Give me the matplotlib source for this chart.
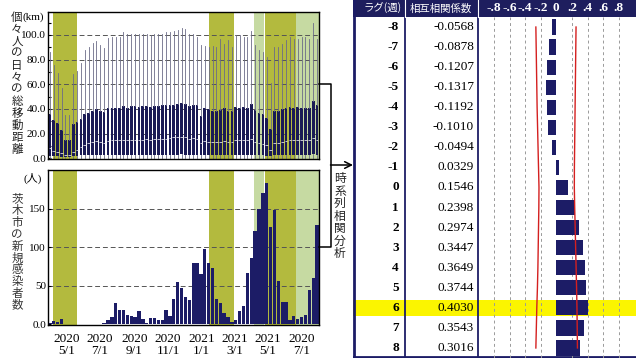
import matplotlib
matplotlib.use('Agg')
import matplotlib.pyplot as plt
import matplotlib.dates as mdates
import numpy as np
import pandas as pd

# ---------------- data ----------------
week_start = pd.date_range('2020-03-29', periods=70, freq='7D')

# weekly distribution of individual daily travel distance (km)
dist_q3 = [35.7, 31, 28.4, 23, 14.8, 14.8, 27.6, 29.8, 31.7, 36, 37, 38.7, 39.8, 38.4, 37.3,
           40.5, 40.5, 40.5, 40.5, 42, 41, 42, 42, 41.5, 42, 42, 41.5, 42, 42.5, 43, 43, 43,
           43.5, 44, 45, 44, 42, 43, 43, 34.3, 40.5, 40, 38, 38, 39, 41, 38, 38, 41.7, 41,
           41.5, 41, 43.6, 38.8, 37, 36, 33, 24, 38, 38, 40, 40.8, 41.6, 41, 41.6, 41, 41,
           41, 46.5, 43]
dist_hi = [86.5, 76, 69, 57, 35, 35, 68, 71, 77, 87.4, 90, 93.6, 95, 91.8, 89.6, 97.9, 98.7,
           98, 98.7, 102, 101, 101, 101, 101, 100.5, 100.5, 100, 100.5, 101, 101, 102, 102,
           103, 104, 106, 105, 101, 101, 98, 92, 91, 90, 91, 90, 97, 93, 96, 90.5, 100, 100,
           98.5, 98.5, 103, 92, 88, 86.5, 82, 61, 90.6, 90, 93, 96, 98, 97, 97, 98.6, 98, 97,
           109.5, 97]
dist_med = [8, 6, 5, 4, 3, 3, 5, 7, 9, 11, 12, 13, 14, 13, 12, 14, 14.5, 14.5, 14.5, 15,
            14.5, 15, 15, 15, 15, 15.5, 15, 15.5, 15.5, 16, 16, 16.5, 17, 17, 17.5, 17, 16,
            16.5, 16, 12, 14, 13.5, 13, 13, 13.5, 14, 13, 13, 14.5, 14.5, 14.5, 14.5, 15.5,
            13, 12, 11.5, 10.5, 7, 12, 12.5, 13.5, 14, 14.5, 14.5, 14.5, 14.5, 15, 15, 16.5, 15]
dist_q1 = [1.5, 1.5, 1.5, 1.2, 1.0, 1.0, 1.5, 2, 2.5, 2.5, 2.5, 2.5, 2.8, 2.8, 2.8, 2.8, 3, 3,
           3, 3, 3, 3, 3, 3, 3, 3, 3, 3, 3, 3, 3, 3, 3, 3, 3.2, 3, 3, 3, 3, 2.5, 2.5, 2.5,
           2.5, 2.5, 2.5, 2.8, 2.5, 2.5, 3, 3, 3, 3, 3, 2.5, 2.5, 2.5, 2.2, 1.5, 2.5, 2.5, 2.8,
           2.8, 3, 3, 3, 3, 3, 3, 3.2, 3]
dist_lo = [0.0] * 70

# weekly new infections in Ibaraki city
cases = [2, 4, 3, 7, 0, 0, 0, 0, 0, 0, 0, 0, 0, 0, 2, 5, 10, 27, 18, 19, 12, 11, 10, 17, 7, 2,
         8, 8, 5, 5, 19, 11, 33, 55, 47, 35, 32, 79, 80, 65, 98, 80, 73, 33, 27, 15, 10, 3, 5,
         17, 23, 67, 86, 121, 149, 170, 183, 126, 148, 56, 29, 29, 5, 11, 7, 9, 12, 45, 60, 129]

emerg_start = ['2020-04-07', '2021-01-14', '2021-04-25']
emerg_end = ['2020-05-21', '2021-02-28', '2021-06-20']
prio_start = ['2021-04-05', '2021-06-21']
prio_end = ['2021-04-24', '2021-08-01']

tick_dates = ['2020-05-01', '2020-07-01', '2020-09-01', '2020-11-01',
              '2021-01-01', '2021-03-01', '2021-05-01', '2021-07-01']
tick_labels = ['2020\n5/1', '2020\n7/1', '2020\n9/1', '2020\n11/1',
               '2021\n1/1', '2021\n3/1', '2021\n5/1', '2020\n7/1']

lags = list(range(-8, 9))
corr = [-0.0568, -0.0878, -0.1207, -0.1317, -0.1192, -0.1010, -0.0494, 0.0329, 0.1546,
        0.2398, 0.2974, 0.3447, 0.3649, 0.3744, 0.4030, 0.3543, 0.3016]
bound_lo = [-0.262, -0.258, -0.254, -0.250, -0.246, -0.240, -0.234, -0.228, -0.222,
            -0.224, -0.228, -0.232, -0.236, -0.242, -0.250, -0.256, -0.262]
bound_hi = [0.253, 0.250, 0.247, 0.244, 0.241, 0.238, 0.235, 0.232, 0.231,
            0.236, 0.242, 0.248, 0.254, 0.260, 0.265, 0.268, 0.271]
highlight_lag = 6
corr_ticks = [-0.8, -0.6, -0.4, -0.2, 0, 0.2, 0.4, 0.6, 0.8]
corr_tick_labels = ['-.8', '-.6', '-.4', '-.2', '0', '.2', '.4', '.6', '.8']

# ---------------- style ----------------
W, H = 636, 360
fig = plt.figure(figsize=(W / 100, H / 100), dpi=100)
SERIF = 'Liberation Serif'
SERIF_JP = ['Liberation Serif', 'Noto Sans CJK JP']
JP = ['Noto Sans CJK JP', 'DejaVu Sans']
navy = '#1c1c66'
box_navy = '#1a1a55'
dark_green = '#b3ba3e'
light_green = '#c6daa2'


def px_axes(l, t, r, b, **kw):
    return fig.add_axes([l / W, 1 - b / H, (r - l) / W, (b - t) / H], **kw)


centers = mdates.date2num(week_start + pd.Timedelta(days=3.5))
x0 = mdates.date2num(pd.Timestamp('2020-03-29'))
x1 = mdates.date2num(pd.Timestamp('2021-08-01'))


def shade(ax):
    for s, e in zip(emerg_start, emerg_end):
        ax.axvspan(mdates.date2num(pd.Timestamp(s)), mdates.date2num(pd.Timestamp(e)),
                   color=dark_green, lw=0, zorder=0)
    for s, e in zip(prio_start, prio_end):
        ax.axvspan(mdates.date2num(pd.Timestamp(s)), mdates.date2num(pd.Timestamp(e)),
                   color=light_green, lw=0, zorder=0)


def style_frame(ax):
    for sp in ax.spines.values():
        sp.set_color('black')
        sp.set_linewidth(1.0)


# ---------------- top panel ----------------
ax1 = px_axes(48, 12, 319, 159)
shade(ax1)
stats = [dict(med=m, q1=a, q3=b, whislo=lo, whishi=hi, fliers=[])
         for m, a, b, lo, hi in zip(dist_med, dist_q1, dist_q3, dist_lo, dist_hi)]
ax1.bxp(stats, positions=centers, widths=4.9, patch_artist=True, showfliers=False,
        showcaps=False, manage_ticks=False,
        boxprops=dict(facecolor=box_navy, edgecolor=box_navy, linewidth=0),
        medianprops=dict(color='#dcdce8', linewidth=0.6),
        whiskerprops=dict(color='#6c6c88', linewidth=0.6))
for y in [20, 40, 60, 80, 100]:
    ax1.axhline(y, color='#555555', lw=0.7, ls=(0, (5, 3)), zorder=0.5)
ax1.set_xlim(x0, x1)
ax1.set_ylim(-0.6, 118.6)
ax1.set_yticks([0, 20, 40, 60, 80, 100])
ax1.set_yticklabels(['0.0', '20.0', '40.0', '60.0', '80.0', '100.0'])
ax1.set_yticks([10, 30, 50, 70, 90, 110], minor=True)
ax1.tick_params(axis='y', which='both', length=2, width=0.8, direction='in', pad=1.5,
                labelsize=8)
ax1.set_xticks([])
for lab in ax1.get_yticklabels():
    lab.set_fontfamily(SERIF)
ax1.text(-0.015, 0.966, '(km)', transform=ax1.transAxes, ha='right', va='center',
         fontsize=8, fontfamily=SERIF)
style_frame(ax1)

# ---------------- bottom panel ----------------
ax2 = px_axes(48, 170, 319, 325)
shade(ax2)
ax2.bar(centers, cases, width=6.0, color=navy, lw=0, zorder=2)
for y in [50, 100, 150]:
    ax2.axhline(y, color='#555555', lw=0.7, ls=(0, (5, 3)), zorder=1)
ax2.set_xlim(x0, x1)
ax2.set_ylim(-1, 200)
ax2.set_yticks([0, 50, 100, 150])
ax2.set_yticklabels(['0.0', '50', '100', '150'])
ax2.tick_params(axis='y', length=2, width=0.8, direction='in', pad=1.5, labelsize=8)
ax2.set_xticks(mdates.date2num(pd.to_datetime(tick_dates)))
ax2.set_xticklabels(tick_labels, linespacing=0.95)
ax2.tick_params(axis='x', length=0, pad=6, labelsize=9.5)
for lab in ax2.get_yticklabels() + ax2.get_xticklabels():
    lab.set_fontfamily(SERIF)
ax2.text(-0.022, 0.948, '(人)', transform=ax2.transAxes, ha='right', va='center',
         fontsize=8, family=SERIF_JP)
style_frame(ax2)

# vertical Japanese axis labels
fig.text(17 / W, 1 - 83 / H, '\n'.join('個々人の日々の総移動距離'), ha='center', va='center',
         fontsize=8.3, family=JP, linespacing=0.9, color='#222222')
fig.text(17 / W, 1 - 252 / H, '\n'.join('茨木市の新規感染者数'), ha='center', va='center',
         fontsize=8.3, family=JP, linespacing=0.88, color='#333333')

# ---------------- table ----------------
row_px = (358 - 17) / 17.0
head_rows = 17 / row_px
axt = px_axes(353, 0, 636, 358)
axt.set_xlim(353, 636)
axt.set_ylim(8.5, -8.5 - head_rows)
axt.axis('off')
axt.axhspan(-8.5 - head_rows, -8.5, color='#1e1e5e', lw=0, zorder=1)
axt.axhspan(highlight_lag - 0.4, highlight_lag + 0.4, color='#fbf500', lw=0, zorder=1)
# column lines
axt.plot([405, 405], [-8.5, 8.5], color=navy, lw=1.3, zorder=3)
axt.plot([478, 478], [-8.5, 8.5], color=navy, lw=1.3, zorder=3)
axt.plot([405, 405], [-8.5 - head_rows, -8.5], color='white', lw=0.8, zorder=3)
axt.plot([478, 478], [-8.5 - head_rows, -8.5], color='white', lw=0.8, zorder=3)
axt.plot([354, 354], [-8.5 - head_rows, 8.5], color=navy, lw=2, zorder=3)
axt.plot([353, 636], [8.45, 8.45], color=navy, lw=2, zorder=3)
mid_head = -8.5 - head_rows / 2
axt.text(383, mid_head, 'ラグ(週)', ha='center', va='center', color='white',
         fontsize=7.5, family=JP, zorder=4)
axt.text(441, mid_head, '相互相関係数', ha='center', va='center', color='white',
         fontsize=7.5, family=JP, zorder=4)
for lag, v in zip(lags, corr):
    axt.text(399, lag, str(lag), ha='right', va='center', fontsize=9.5,
             fontweight='bold', fontfamily=SERIF, zorder=4)
    axt.text(474, lag, f'{v:.4f}', ha='right', va='center', fontsize=9.5,
             fontfamily=SERIF, zorder=4)

axb = px_axes(478, 17, 636, 358)
axb.patch.set_alpha(0)
axb.set_xlim((478 - 556.3) / 78, (636 - 556.3) / 78)
axb.set_ylim(8.5, -8.5)
for t in corr_ticks:
    if t != 0:
        axb.axvline(t, color='#9a9a9a', lw=0.7, ls=(0, (3, 3)), zorder=1)
axb.barh(lags, corr, height=0.76, color=navy, lw=0, zorder=2)
axb.plot(bound_lo, lags, color='#d42020', lw=1.0, zorder=3)
axb.plot(bound_hi, lags, color='#d42020', lw=1.0, zorder=3)
axb.set_yticks([])
axb.xaxis.tick_top()
axb.set_xticks(corr_ticks)
axb.set_xticklabels(corr_tick_labels)
axb.tick_params(axis='x', length=0, pad=2.5, labelsize=9.5, labelcolor='white')
for lab in axb.get_xticklabels():
    lab.set_fontfamily(SERIF)
    lab.set_fontweight('bold')
for sp in axb.spines.values():
    sp.set_visible(False)

# ---------------- connector ----------------
axo = fig.add_axes([0, 0, 1, 1])
axo.set_xlim(0, W)
axo.set_ylim(H, 0)
axo.axis('off')
axo.patch.set_alpha(0)
axo.plot([319, 330.5, 330.5, 319], [84, 84, 247, 247], color='black', lw=1.1)
axo.annotate('', xy=(353, 165), xytext=(330.5, 165),
             arrowprops=dict(arrowstyle='->', lw=1.1, color='black', mutation_scale=12,
                             shrinkA=0, shrinkB=0))
axo.text(340, 216, '\n'.join('時系列相関分析'), ha='center', va='center', fontsize=8.5,
         family=JP, linespacing=0.95, color='#222222')

fig.savefig('out.png', dpi=100)
